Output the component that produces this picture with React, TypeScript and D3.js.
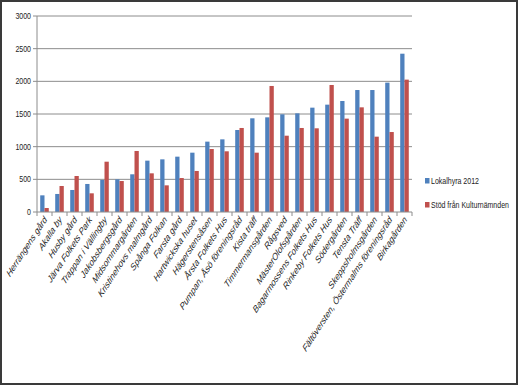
import React from 'react';
import * as d3 from 'd3';

const categories = [
  'Herrängens gård', 'Akalla by', 'Husby gård', 'Järva Folkets Park', 'Trappan i Vällingby',
  'Jakobsbergsgård', 'Midsommargården', 'Kristinehovs malmgård', 'Spånga Folkan', 'Farsta gård',
  'Hartwickska huset', 'Hägerstensåsen', 'Årsta Folkets Hus', 'Pumpan, Åsö föreningsråd', 'Kista träff',
  'Timmermansgården', 'Rågsved', 'MästerOlofsgården', 'Bagarmossens Folkets Hus', 'Rinkeby Folkets Hus',
  'Södergården', 'Tensta Träff', 'Skeppsholmsgården', 'Fältöversten, Östermalms föreningsråd', 'Birkagården',
];
const lokalhyra = [255, 276, 337, 429, 490, 500, 577, 786, 806, 847, 908, 1077, 1112, 1255, 1434,
  1449, 1495, 1510, 1597, 1643, 1699, 1867, 1867, 1980, 2423];
const stod = [61, 398, 551, 286, 770, 474, 934, 592, 408, 520, 628, 964, 929, 1286, 908,
  1929, 1168, 1286, 1281, 1944, 1429, 1602, 1153, 1224, 2026];
const yTicks = [0, 500, 1000, 1500, 2000, 2500, 3000];
const seriesNames = ['Lokalhyra 2012', 'Stöd från Kulturnämnden'];
const colors = ['#4F81BD', '#C0504D'];

const W = 518;
const H = 385;
const plot = { left: 37, right: 412, top: 16, bottom: 212 };
const font = "'Liberation Sans', Arial, sans-serif";
// the source picture is squeezed sideways, so text is narrowed the same way
const squeeze = 0.78;

export default function App() {
  const x = d3.scaleBand<string>().domain(categories).range([plot.left, plot.right]);
  const y = d3.scaleLinear().domain([0, 3000]).range([plot.bottom, plot.top]);
  const bw = x.bandwidth() / 3.5;

  return (
    <svg width={W} height={H} style={{ position: 'absolute', left: 0, top: 0, background: '#fff' }}>
      <rect x={1} y={1} width={W - 2} height={H - 2} fill="#fff" stroke="#3a3a3a" strokeWidth={2} />

      {/* gridlines + y ticks */}
      {yTicks.map(t => (
        <g key={t}>
          {t > 0 && <line x1={plot.left} x2={plot.right} y1={y(t)} y2={y(t)} stroke="#8c8c8c" strokeWidth={1} />}
          <line x1={plot.left - 4} x2={plot.left} y1={y(t)} y2={y(t)} stroke="#8c8c8c" />
          <text transform={`translate(${plot.left - 6},${y(t)}) scale(${squeeze},1)`} dy="0.35em" textAnchor="end"
            fontSize={9} fontFamily={font} fill="#222">{t}</text>
        </g>
      ))}

      {/* bars */}
      {categories.map((c, i) => {
        const x0 = (x(c) as number) + x.bandwidth() / 2 - bw;
        return (
          <g key={c}>
            <rect x={x0} y={y(lokalhyra[i])} width={bw} height={plot.bottom - y(lokalhyra[i])} fill={colors[0]} />
            <rect x={x0 + bw} y={y(stod[i])} width={bw} height={plot.bottom - y(stod[i])} fill={colors[1]} />
          </g>
        );
      })}

      {/* axes */}
      <line x1={plot.left} x2={plot.left} y1={plot.top} y2={plot.bottom} stroke="#8c8c8c" />
      <line x1={plot.left} x2={plot.right} y1={plot.bottom} y2={plot.bottom} stroke="#8c8c8c" />
      {categories.concat(['']).map((c, i) => {
        const xx = plot.left + i * x.step();
        return <line key={i} x1={xx} x2={xx} y1={plot.bottom} y2={plot.bottom + 4} stroke="#8c8c8c" />;
      })}

      {/* category labels */}
      {categories.map(c => {
        const cx = (x(c) as number) + x.bandwidth() / 2;
        return (
          <text key={c} transform={`translate(${cx + 3},${plot.bottom + 8}) scale(${squeeze},1) rotate(-50)`}
            textAnchor="end" fontSize={10} fontStyle="italic" fontFamily={font} fill="#222">{c}</text>
        );
      })}

      {/* legend */}
      {seriesNames.map((s, i) => (
        <g key={s} transform={`translate(425,${181 + i * 24})`}>
          <rect x={0} y={-3} width={4.5} height={5.5} fill={colors[i]} />
          <text transform={`translate(6,0) scale(${squeeze},1)`} dy="0.35em" fontSize={9} fontFamily={font} fill="#222">{s}</text>
        </g>
      ))}
    </svg>
  );
}
